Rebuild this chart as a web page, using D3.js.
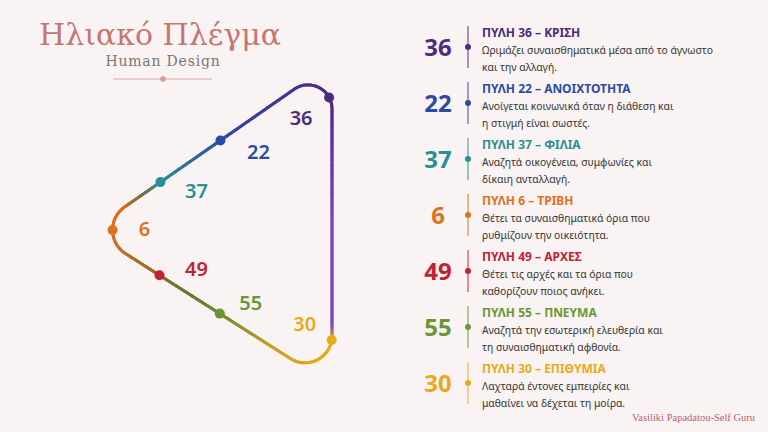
<!DOCTYPE html>
<html>
<head>
<meta charset="utf-8">
<script src="https://cdn.jsdelivr.net/npm/d3@7"></script>
<style>
  html,body{margin:0;padding:0;background:#f9f4f3;}
  svg{display:block;}
</style>
</head>
<body>
<div id="chart"></div>
<script>
// gates in the order they sit on the grid
const gates = [36, 22, 37, 6, 49, 55, 30];
const gateNames = ["ΚΡΙΣΗ", "ΑΝΟΙΧΤΟΤΗΤΑ", "ΦΙΛΙΑ", "ΤΡΙΒΗ", "ΑΡΧΕΣ", "ΠΝΕΥΜΑ", "ΕΠΙΘΥΜΙΑ"];
const descLine1 = [
  "Ωριμάζει συναισθηματικά μέσα από το άγνωστο",
  "Ανοίγεται κοινωνικά όταν η διάθεση και",
  "Αναζητά οικογένεια, συμφωνίες και",
  "Θέτει τα συναισθηματικά όρια που",
  "Θέτει τις αρχές και τα όρια που",
  "Αναζητά την εσωτερική ελευθερία και",
  "Λαχταρά έντονες εμπειρίες και"
];
const descLine2 = [
  "και την αλλαγή.",
  "η στιγμή είναι σωστές.",
  "δίκαιη ανταλλαγή.",
  "ρυθμίζουν την οικειότητα.",
  "καθορίζουν ποιος ανήκει.",
  "τη συναισθηματική αφθονία.",
  "μαθαίνει να δέχεται τη μοίρα."
];
const gateColors = ["#4e2a7e", "#2a4aa8", "#2a8f95", "#e07020", "#c42030", "#6a9636", "#eba919"];

// layout (not data)
const W = 768, H = 432;
const tri = {T: [332, 63], L: [90, 231], B: [332, 385], rT: 24, rL: 28, rB: 27};
const pathPos = [0.160, 0.324, 0.416, 0.505, 0.591, 0.681, 0.854];
const labelOff = [[-28, 21], [38, 12], [36, 9], [32, -1], [37, -6], [31, -11], [-27, -16]];
const strokeStops = [0, 0.13, 0.16, 0.324, 0.416, 0.445, 0.475, 0.505, 0.591, 0.64, 0.681, 0.76, 0.83, 0.856, 0.875, 1];
const strokeCols = ["#7d46bd", "#5a2d8f", "#4e2a7e", "#2f4aa8", "#2a8f95", "#6f6f4a", "#d66a22", "#e07020",
                    "#8a6a2a", "#6b7a2e", "#6a8a34", "#c9a020", "#e8a818", "#eba919", "#7d46bd", "#7d46bd"];

const svg = d3.select("#chart").append("svg").attr("width", W).attr("height", H);
svg.append("rect").attr("width", W).attr("height", H).attr("fill", "#f9f4f3");

// title
svg.append("text").attr("x", 160).attr("y", 45).attr("text-anchor", "middle")
  .style("font-family", "'DejaVu Serif', serif").style("font-size", "30px")
  .attr("fill", "#c6766f").text("Ηλιακό Πλέγμα");
svg.append("text").attr("x", 163).attr("y", 66).attr("text-anchor", "middle")
  .style("font-family", "'DejaVu Serif', serif").style("font-size", "14px")
  .style("letter-spacing", "0.8px").attr("fill", "#7a7473").text("Human Design");
svg.append("line").attr("x1", 113).attr("x2", 212).attr("y1", 79).attr("y2", 79)
  .attr("stroke", "#dba8a2").attr("stroke-width", 1.2);
svg.append("circle").attr("cx", 163).attr("cy", 79).attr("r", 2.8).attr("fill", "#d99a93");

// rounded triangle path
const M = [tri.T[0], (tri.T[1] + tri.B[1]) / 2];
const p = d3.path();
p.moveTo(M[0], M[1]);
p.arcTo(tri.T[0], tri.T[1], tri.L[0], tri.L[1], tri.rT);
p.arcTo(tri.L[0], tri.L[1], tri.B[0], tri.B[1], tri.rL);
p.arcTo(tri.B[0], tri.B[1], M[0], M[1], tri.rB);
p.lineTo(M[0], M[1]);

const ghost = svg.append("path").attr("d", p.toString()).attr("fill", "none").attr("stroke", "none");
const node = ghost.node();
const total = node.getTotalLength();
const len = d3.scaleLinear().domain([0, 1]).range([0, total]);
const strokeColor = d3.scaleLinear().domain(strokeStops).range(strokeCols).interpolate(d3.interpolateRgb);

const N = 500;
const samples = d3.range(N + 1).map(i => {
  const pt = node.getPointAtLength(len(i / N));
  return {x: pt.x, y: pt.y, t: i / N};
});
svg.append("g").selectAll("line").data(d3.pairs(samples)).join("line")
  .attr("x1", d => d[0].x).attr("y1", d => d[0].y)
  .attr("x2", d => d[1].x).attr("y2", d => d[1].y)
  .attr("stroke", d => strokeColor((d[0].t + d[1].t) / 2))
  .attr("stroke-width", 3).attr("stroke-linecap", "round");

const color = d3.scaleOrdinal(gates, gateColors);
const dots = gates.map((g, i) => {
  const pt = node.getPointAtLength(len(pathPos[i]));
  return {gate: g, x: pt.x, y: pt.y, off: labelOff[i]};
});
svg.append("g").selectAll("circle").data(dots).join("circle")
  .attr("cx", d => d.x).attr("cy", d => d.y).attr("r", 5).attr("fill", d => color(d.gate));
svg.append("g").selectAll("text").data(dots).join("text")
  .attr("x", d => d.x + d.off[0]).attr("y", d => d.y + d.off[1])
  .attr("text-anchor", "middle").attr("dy", "0.35em")
  .style("font-family", "'Noto Sans', sans-serif").style("font-size", "20px").style("font-weight", 600)
  .attr("fill", d => color(d.gate)).text(d => d.gate);

// legend list
const y = d3.scalePoint().domain(gates).range([47, 383]);
const rows = svg.append("g").selectAll("g").data(gates).join("g")
  .attr("transform", g => `translate(0,${y(g)})`);
rows.append("text").attr("x", 438).attr("y", 9).attr("text-anchor", "middle")
  .style("font-family", "'Noto Sans', sans-serif").style("font-size", "24px").style("font-weight", 700)
  .attr("fill", g => color(g)).text(g => g);
rows.append("line").attr("x1", 468).attr("x2", 468).attr("y1", -21).attr("y2", 21)
  .attr("stroke", g => color(g)).attr("stroke-opacity", 0.75).attr("stroke-width", 1.3);
rows.append("circle").attr("cx", 468).attr("cy", 0).attr("r", 3).attr("fill", g => color(g));
rows.append("text").attr("x", 482).attr("y", -10)
  .style("font-family", "'Noto Sans', sans-serif").style("font-size", "12px").style("font-weight", 700)
  .attr("fill", g => color(g)).text((g, i) => `ΠΥΛΗ ${g} – ${gateNames[i]}`);
rows.append("text").attr("x", 482).attr("y", 7)
  .style("font-family", "'Noto Sans', sans-serif").style("font-size", "10.3px")
  .attr("fill", "#333").text((g, i) => descLine1[i]);
rows.append("text").attr("x", 482).attr("y", 24)
  .style("font-family", "'Noto Sans', sans-serif").style("font-size", "10.3px")
  .attr("fill", "#333").text((g, i) => descLine2[i]);

// footer
svg.append("text").attr("x", 755).attr("y", 421).attr("text-anchor", "end")
  .style("font-family", "'Liberation Serif', serif").style("font-size", "10.5px")
  .attr("fill", "#c0606e").text("Vasiliki Papadatou-Self Guru");
</script>
</body>
</html>
